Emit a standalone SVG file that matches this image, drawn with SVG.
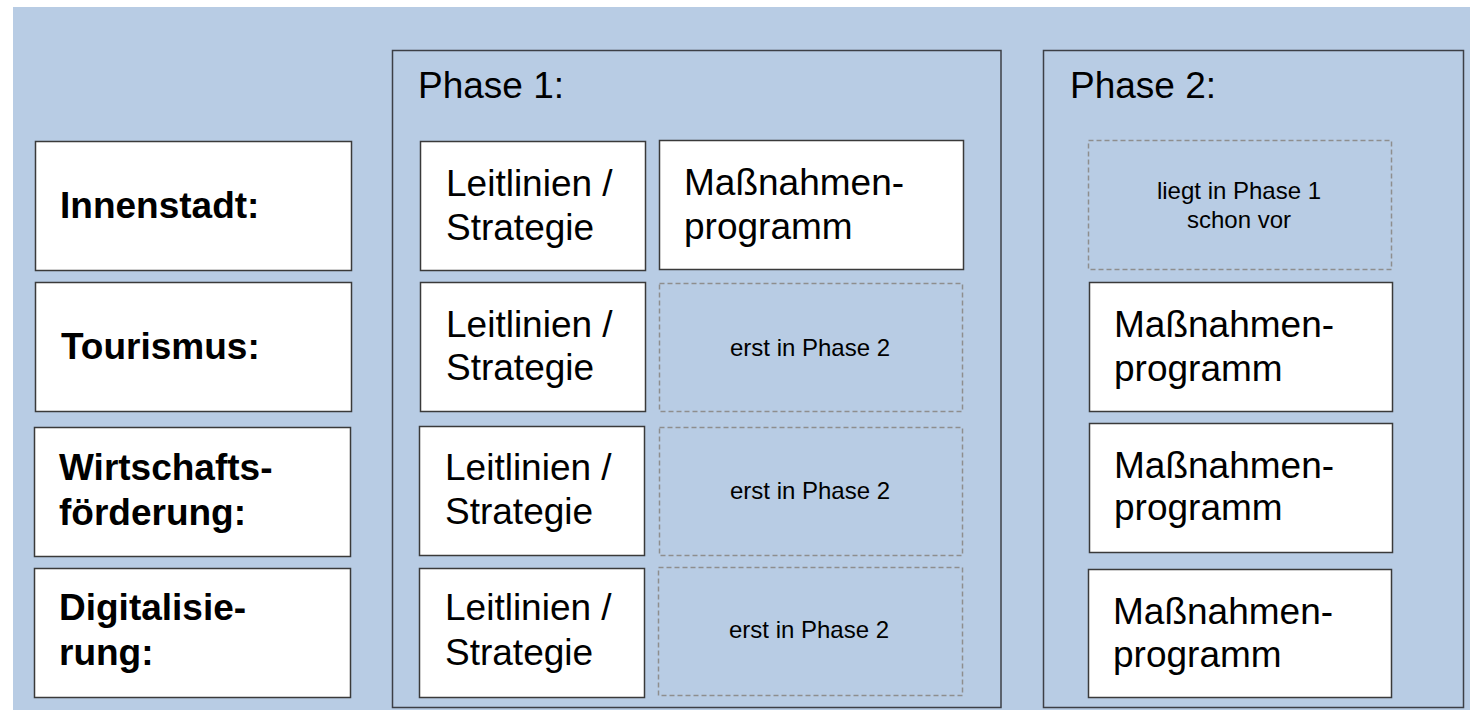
<svg xmlns="http://www.w3.org/2000/svg" width="1470" height="710" viewBox="0 0 1470 710">
<style>
.bg{fill:#b8cce4}
.phase{fill:#b8cce4;stroke:#3c3f46;stroke-width:1.5}
.box{fill:#ffffff;stroke:#3a3a3a;stroke-width:1.5}
.dash{fill:none;stroke:#8e8e8e;stroke-width:1.5;stroke-dasharray:5 3}
.t{font-family:"Liberation Sans",Arial,sans-serif;fill:#000}
.lbl{font-size:37px;font-weight:bold}
.big{font-size:37px}
.small{font-size:24px;text-anchor:middle}
</style>
<rect width="1470" height="710" fill="#ffffff"/>
<rect class="bg" x="13" y="7" width="1457" height="703"/>
<g id="phase1">
<rect class="phase" x="392.5" y="50.5" width="608.5" height="657"/>
<text class="t big" x="418" y="98">Phase 1:</text>
</g>
<g id="phase2">
<rect class="phase" x="1043.5" y="50.5" width="420" height="657"/>
<text class="t big" x="1070" y="98">Phase 2:</text>
</g>
<g id="innenstadt">
<rect class="box" x="35.5" y="141.5" width="316" height="129"/>
<text class="t lbl" x="60" y="218">Innenstadt:</text>
</g>
<g id="tourismus">
<rect class="box" x="35.5" y="282.5" width="316" height="129"/>
<text class="t lbl" x="61" y="359">Tourismus:</text>
</g>
<g id="wirtschaft">
<rect class="box" x="34.5" y="427.5" width="316" height="129"/>
<text class="t lbl" x="59" y="480">Wirtschafts-</text>
<text class="t lbl" x="59" y="525">förderung:</text>
</g>
<g id="digital">
<rect class="box" x="34.5" y="568.5" width="316" height="129"/>
<text class="t lbl" x="59" y="620">Digitalisie-</text>
<text class="t lbl" x="59" y="665">rung:</text>
</g>
<g id="p1-leit-1">
<rect class="box" x="420.5" y="141.5" width="225" height="129"/>
<text class="t big" x="446" y="196">Leitlinien /</text>
<text class="t big" x="446" y="240">Strategie</text>
</g>
<g id="p1-leit-2">
<rect class="box" x="420.5" y="282.5" width="225" height="129"/>
<text class="t big" x="446" y="337">Leitlinien /</text>
<text class="t big" x="446" y="380">Strategie</text>
</g>
<g id="p1-leit-3">
<rect class="box" x="419.5" y="426.5" width="225" height="129"/>
<text class="t big" x="445" y="480">Leitlinien /</text>
<text class="t big" x="445" y="524">Strategie</text>
</g>
<g id="p1-leit-4">
<rect class="box" x="419.5" y="568.5" width="225" height="129"/>
<text class="t big" x="445" y="620">Leitlinien /</text>
<text class="t big" x="445" y="665">Strategie</text>
</g>
<g id="p1-mass-1">
<rect class="box" x="659.5" y="140.5" width="304" height="129"/>
<text class="t big" x="684" y="195">Maßnahmen-</text>
<text class="t big" x="684" y="239">programm</text>
</g>
<g id="p1-erst-2">
<rect class="dash" x="659.5" y="283.5" width="303" height="128"/>
<text class="t small" x="810" y="356">erst in Phase 2</text>
</g>
<g id="p1-erst-3">
<rect class="dash" x="659.5" y="427.5" width="303" height="128"/>
<text class="t small" x="810" y="499">erst in Phase 2</text>
</g>
<g id="p1-erst-4">
<rect class="dash" x="658.5" y="567.5" width="304" height="128"/>
<text class="t small" x="809" y="638">erst in Phase 2</text>
</g>
<g id="p2-vor">
<rect class="dash" x="1088.5" y="140.5" width="303" height="129"/>
<text class="t small" x="1239" y="199">liegt in Phase 1</text>
<text class="t small" x="1239" y="228">schon vor</text>
</g>
<g id="p2-mass-2">
<rect class="box" x="1089.5" y="282.5" width="303" height="129"/>
<text class="t big" x="1114" y="337">Maßnahmen-</text>
<text class="t big" x="1114" y="381">programm</text>
</g>
<g id="p2-mass-3">
<rect class="box" x="1089.5" y="423.5" width="303" height="129"/>
<text class="t big" x="1114" y="478">Maßnahmen-</text>
<text class="t big" x="1114" y="520">programm</text>
</g>
<g id="p2-mass-4">
<rect class="box" x="1088.5" y="569.5" width="303" height="128"/>
<text class="t big" x="1113" y="624">Maßnahmen-</text>
<text class="t big" x="1113" y="667">programm</text>
</g>
<g id="connectors"></g>
</svg>
